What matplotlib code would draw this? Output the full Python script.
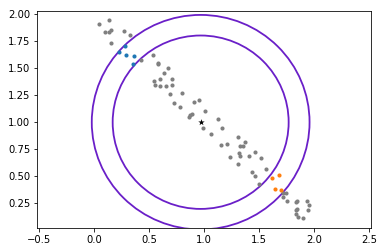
import matplotlib
matplotlib.use("Agg")
import matplotlib.pyplot as plt
from matplotlib.patches import Circle

gray_x = [0.045, 0.139, 0.103, 0.139, 0.152, 0.157, 0.275, 0.330, 0.430, 0.539,
          0.585, 0.580, 0.675, 0.639, 0.712, 0.548, 0.603, 0.557, 0.603, 0.657,
          0.712, 0.694, 0.803, 0.730, 0.785, 0.912, 0.957, 0.866, 0.875, 0.894,
          1.012, 1.130, 0.994, 1.166, 1.066, 1.312, 1.375, 1.330, 1.357, 1.157,
          1.212, 1.239, 1.321, 1.330, 1.412, 1.466, 1.521, 1.312, 1.566, 1.439,
          1.466, 1.503, 1.721, 1.748, 1.721, 1.757, 1.839, 1.848, 1.939, 1.957,
          1.848, 1.839, 1.948, 1.839, 1.857, 1.903]
gray_y = [1.905, 1.942, 1.831, 1.831, 1.849, 1.729, 1.840, 1.803, 1.572, 1.619,
          1.545, 1.536, 1.499, 1.452, 1.403, 1.381, 1.397, 1.342, 1.332, 1.332,
          1.342, 1.259, 1.268, 1.175, 1.139, 1.185, 1.203, 1.046, 1.065, 1.074,
          1.102, 1.028, 0.947, 0.945, 0.889, 0.861, 0.815, 0.778, 0.778, 0.788,
          0.797, 0.677, 0.714, 0.686, 0.686, 0.723, 0.668, 0.612, 0.566, 0.538,
          0.501, 0.428, 0.344, 0.344, 0.307, 0.271, 0.261, 0.271, 0.271, 0.234,
          0.197, 0.187, 0.187, 0.150, 0.123, 0.114]

blue_x = [0.230, 0.285, 0.294, 0.366, 0.357]
blue_y = [1.652, 1.702, 1.619, 1.609, 1.536]

orange_x = [1.621, 1.685, 1.648, 1.703]
orange_y = [0.483, 0.511, 0.381, 0.372]

center = (0.97, 1.0)
radii = [0.99, 0.80]

fig = plt.figure(figsize=(382 / 72, 252 / 72), dpi=72)
ax = fig.add_axes([0.0977, 0.094, 0.971 - 0.0977, 0.958 - 0.094])

for r in radii:
    ax.add_artist(Circle(center, r, fill=False, edgecolor="#6a1fc8",
                         linewidth=1.8, zorder=1))
ax.scatter(gray_x, gray_y, color="gray", s=17, linewidths=0, zorder=3)
ax.scatter(blue_x, blue_y, color="C0", s=17, linewidths=0, zorder=3)
ax.scatter(orange_x, orange_y, color="C1", s=17, linewidths=0, zorder=3)
ax.scatter([center[0]], [center[1]], color="black", marker="*", s=45,
           linewidths=0, zorder=3)

ax.set_xlim(-0.515, 2.518)
ax.set_ylim(0.021, 2.030)
ax.set_xticks([-0.5, 0.0, 0.5, 1.0, 1.5, 2.0, 2.5])
ax.set_yticks([0.25, 0.5, 0.75, 1.0, 1.25, 1.5, 1.75, 2.0])

fig.savefig("out.png", dpi=72)
